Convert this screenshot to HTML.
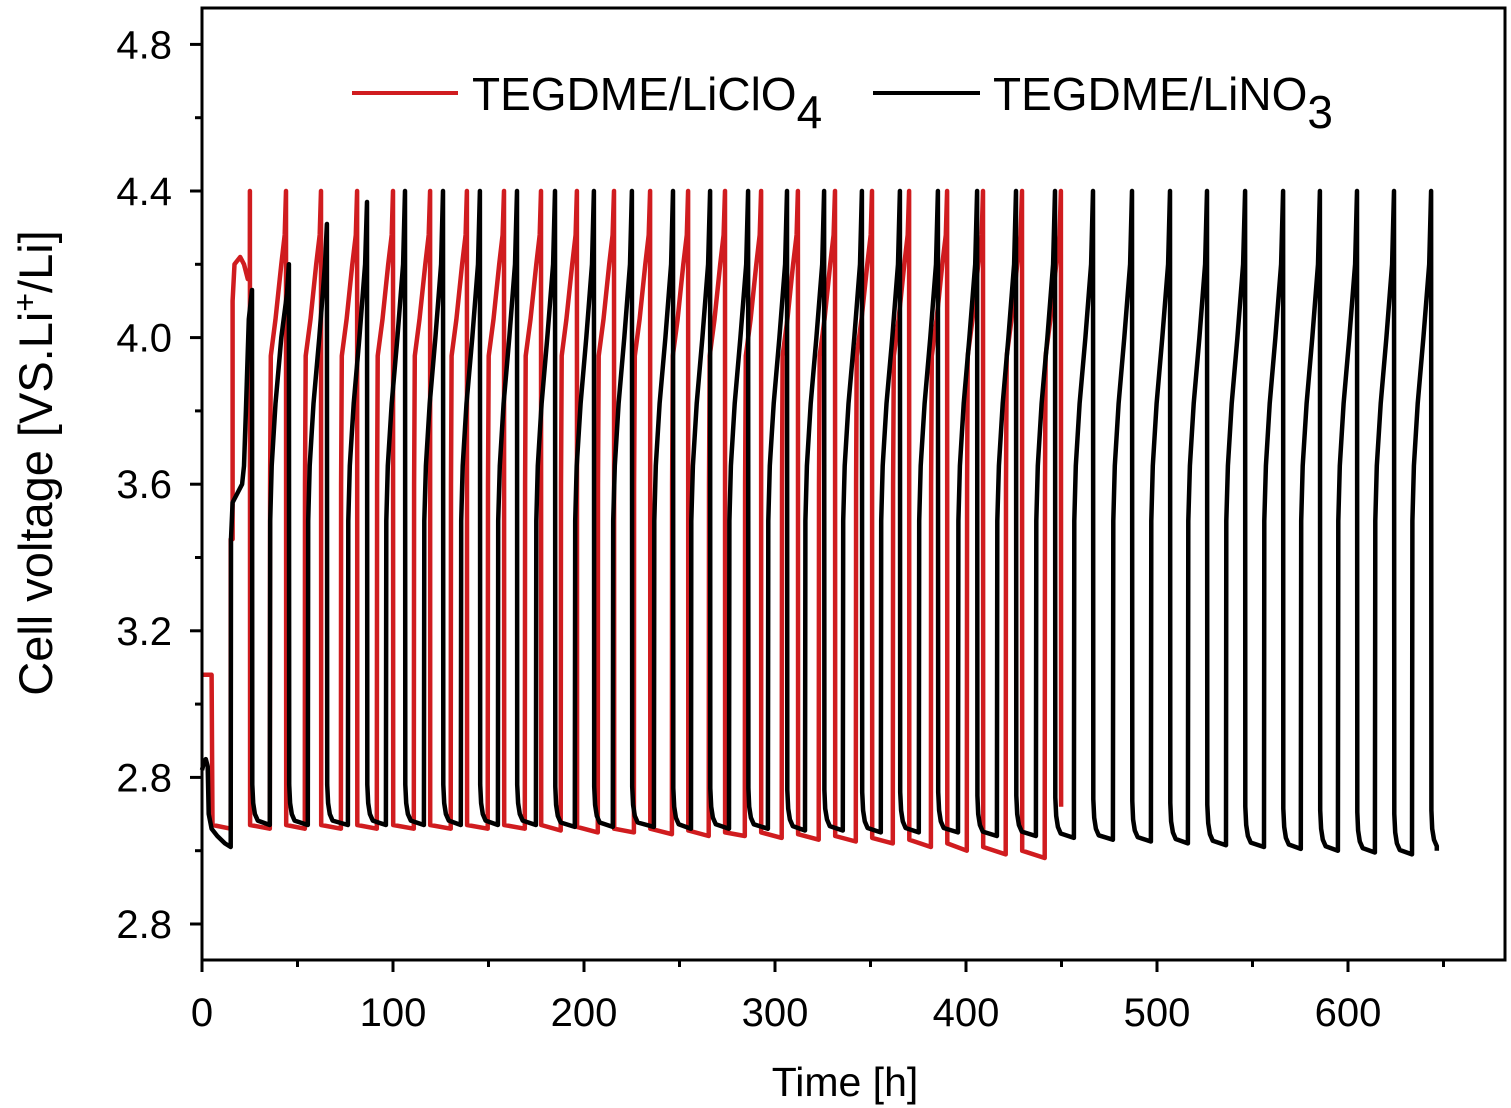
<!DOCTYPE html>
<html><head><meta charset="utf-8"><style>
html,body{margin:0;padding:0;background:#fff;}
svg{display:block;font-family:"Liberation Sans",Arial,sans-serif;}
</style></head><body>
<svg id="chart" width="1511" height="1108" viewBox="0 0 1511 1108" xmlns="http://www.w3.org/2000/svg">
<rect x="0" y="0" width="1511" height="1108" fill="#fff"/>
<g id="plot"></g>
<rect x="202" y="8" width="1303" height="952" fill="none" stroke="#000" stroke-width="3"/>
<g id="axes"></g>
<g>
<line x1="352" y1="93" x2="458" y2="93" stroke="#d01c1f" stroke-width="4"/>
<text x="472" y="110" font-size="46">TEGDME/LiClO<tspan font-size="46" dy="18">4</tspan></text>
<line x1="873" y1="93" x2="980" y2="93" stroke="#000" stroke-width="4"/>
<text x="993" y="110" font-size="46">TEGDME/LiNO<tspan font-size="46" dy="18">3</tspan></text>
</g>
<text x="845" y="1096" font-size="41" text-anchor="middle">Time [h]</text>
<text transform="translate(52,463) rotate(-90)" font-size="47" text-anchor="middle">Cell voltage [VS.Li<tspan dy="-16" font-size="32">+</tspan><tspan dy="16">/Li]</tspan></text>
</svg>
<script>
// ---- data ----
const xTicks = [0,100,200,300,400,500,600];
const yTicks = [2.4,2.8,3.2,3.6,4.0,4.4,4.8];
const yTickLabels = ["2.8","2.8","3.2","3.6","4.0","4.4","4.8"];
// red: TEGDME/LiClO4
const redPreT = [0,5,5.5,15,15,16,16,17,20,22,24,25];
const redPreV = [3.08,3.08,2.67,2.66,3.45,3.45,4.1,4.2,4.22,4.2,4.16,4.17];
const redPeakT = [25.1,44.0,62.3,81.2,100.0,119.4,138.7,158.1,177.5,196.3,215.7,234.6,254.5,273.8,292.7,312.0,331.4,350.8,370.2,390.1,408.9,429.3,449.7];
const redPeakV = [4.4,4.4,4.4,4.4,4.4,4.4,4.4,4.4,4.4,4.4,4.4,4.4,4.4,4.4,4.4,4.4,4.4,4.4,4.4,4.4,4.4,4.4,4.4];
const redMinV = [2.66,2.66,2.66,2.66,2.66,2.66,2.66,2.66,2.66,2.655,2.65,2.65,2.645,2.64,2.64,2.635,2.63,2.625,2.62,2.61,2.60,2.59,2.58];
// black: TEGDME/LiNO3
const blackPreT = [0,1,2,3,3.5,5,8,12,15,15.2,16,19,21,22,23,24.5];
const blackPreV = [2.82,2.84,2.85,2.83,2.7,2.66,2.64,2.62,2.61,3.45,3.55,3.58,3.6,3.65,3.8,4.05];
const blackPeakT = [26.2,45.5,65.4,86.4,106.3,126.2,145.5,164.9,184.8,205.2,225.1,246.6,266.0,285.9,306.3,325.7,345.5,365.4,385.3,405.8,426.2,446.6,466.5,486.9,506.8,526.2,546.1,566.0,585.3,604.7,624.1,643.5];
const blackPeakV = [4.13,4.2,4.31,4.37,4.4,4.4,4.4,4.4,4.4,4.4,4.4,4.4,4.4,4.4,4.4,4.4,4.4,4.4,4.4,4.4,4.4,4.4,4.4,4.4,4.4,4.4,4.4,4.4,4.4,4.4,4.4,4.4];
const blackMinV = [2.61,2.67,2.67,2.67,2.67,2.67,2.67,2.67,2.67,2.665,2.665,2.665,2.66,2.66,2.66,2.655,2.655,2.65,2.65,2.65,2.64,2.64,2.635,2.63,2.625,2.62,2.615,2.61,2.605,2.60,2.595,2.59,2.60];

// ---- axes functions ----
const X0=202, PXH=(1348-202)/600;
function xs(t){return X0+t*PXH;}
function ys(v){return 924-(v-2.4)*(924-191)/2.0;}

const NS="http://www.w3.org/2000/svg";
const plot=document.getElementById('plot');
const axes=document.getElementById('axes');

function redSeries(){
  const pts=[];
  for(let i=0;i<redPreT.length;i++) pts.push([redPreT[i],redPreV[i]]);
  for(let k=0;k<redPeakT.length;k++){
    const tp=redPeakT[k];
    if(k>0){
      const ts=tp-8.5, vm=redMinV[k];
      pts.push([ts,vm],[ts+0.15,3.6],[ts+0.5,3.95],[ts+3,4.05],[ts+6,4.2],[tp-0.7,4.28]);
    }
    pts.push([tp,redPeakV[k]]);
    const v0 = k+1<redMinV.length ? redMinV[k]+0.01 : 2.72;
    pts.push([tp+0.1,v0]);
    if(k+1<redPeakT.length) pts.push([redPeakT[k+1]-8.5,redMinV[k+1]]);
  }
  return pts;
}
function blackSeries(){
  const pts=[];
  for(let i=0;i<blackPreT.length;i++) pts.push([blackPreT[i],blackPreV[i]]);
  for(let k=0;k<blackPeakT.length;k++){
    const tp=blackPeakT[k], pv=blackPeakV[k];
    if(k>0){
      const ts=tp-10, vm=blackMinV[k];
      const knee=Math.min(4.2,pv-0.08);
      pts.push([ts,vm],[ts+0.2,3.5],[ts+1,3.65],[ts+3,3.82],[ts+6,4.0],[tp-1,knee]);
    }
    pts.push([tp,pv]);
    const vn=blackMinV[k+1];
    const tn = k+1<blackPeakT.length ? blackPeakT[k+1]-10 : tp+3;
    pts.push([tp+0.15,vn+0.11],[tp+0.6,vn+0.06],[tp+1.5,vn+0.03],[tp+3,vn+0.012],[tn,vn]);
  }
  return pts;
}
function drawLine(pts,color,name){
  const p=document.createElementNS(NS,'polyline');
  p.setAttribute('points',pts.map(q=>xs(q[0]).toFixed(1)+','+ys(q[1]).toFixed(1)).join(' '));
  p.setAttribute('fill','none');p.setAttribute('stroke',color);
  p.setAttribute('stroke-width','4.5');p.setAttribute('stroke-linejoin','round');
  
  
  plot.appendChild(p);
}
drawLine(redSeries(),'#d01c1f','series-liclo4');
drawLine(blackSeries(),'#000','series-lino3');

function ln(x1,y1,x2,y2){
  const l=document.createElementNS(NS,'line');
  l.setAttribute('x1',x1);l.setAttribute('y1',y1);l.setAttribute('x2',x2);l.setAttribute('y2',y2);
  l.setAttribute('stroke','#000');l.setAttribute('stroke-width','3');
  
  
  axes.appendChild(l);
}
function tx(x,y,s,anchor,name){
  const t=document.createElementNS(NS,'text');
  t.setAttribute('x',x);t.setAttribute('y',y);t.setAttribute('font-size','40');
  t.setAttribute('text-anchor',anchor);t.textContent=s;
  
  
  axes.appendChild(t);
}
xTicks.forEach(t=>{
  const x=xs(t); ln(x,960,x,972);
  const xm=xs(t+50); if(xm<1500) ln(xm,960,xm,967);
  tx(x,1026,String(t),'middle','x-tick-label');
});
yTicks.forEach((v,i)=>{
  const y=ys(v); ln(190,y,202,y);
  const ym=ys(v+0.2); if(ym>10) ln(195,ym,202,ym);
  tx(172,y+14,yTickLabels[i],'end','y-tick-label');
});
</script>
</body></html>
